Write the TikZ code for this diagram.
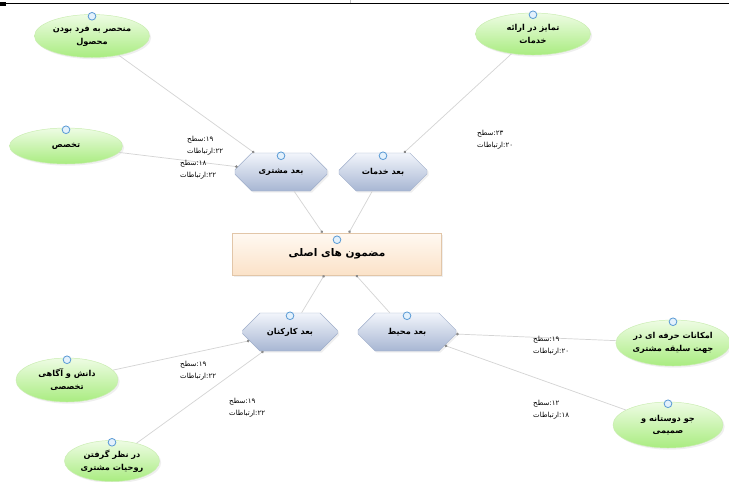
\documentclass[tikz,border=0pt]{standalone}
\usepackage{fontspec}
\usepackage{xcolor}
\usepackage{tikz}
\usetikzlibrary{positioning,shapes.geometric,shapes.misc,arrows.meta,shadows}
\TeXXeTstate=1
\newfontfamily\farsi[Script=Arabic]{DejaVu Sans}
\newcommand{\fatxt}[1]{\beginR #1\endR}
\newcommand{\weightlbl}[4]{\mbox{\fatxt{#1}}\mbox{:}\mbox{#2}\\\mbox{\fatxt{#3}}\mbox{:}\mbox{#4}}
\definecolor{THGreenTop}{HTML}{EEFCE4}
\definecolor{THGreenBot}{HTML}{A9EC80}
\definecolor{THGreenLine}{HTML}{C9EDB0}
\definecolor{THBlueTop}{HTML}{F2F5FB}
\definecolor{THBlueBot}{HTML}{A7B6D3}
\definecolor{THBlueLine}{HTML}{9FAECA}
\definecolor{THPeachTop}{HTML}{FFF9F2}
\definecolor{THPeachBot}{HTML}{FBE2C8}
\definecolor{THPeachLine}{HTML}{E2C6A8}
\definecolor{THLink}{HTML}{D4D4D4}
\definecolor{THDot}{HTML}{8A8A8A}
\definecolor{THKnob}{HTML}{5B9BD5}
\definecolor{THKnobFill}{HTML}{E3F1FC}
\begin{document}
\begin{tikzpicture}[x=0.3mm,y=-0.3mm,
    theme/.style={ellipse,draw=THGreenLine,top color=THGreenTop,bottom color=THGreenBot,
      font=\farsi\bfseries\fontsize{7}{11}\selectfont,align=center,inner sep=0pt,
      drop shadow={opacity=0.12,shadow xshift=0.5mm,shadow yshift=-0.5mm}},
    dimbox/.style={chamfered rectangle,chamfered rectangle xsep=4.5mm,chamfered rectangle ysep=4mm,
      draw=THBlueLine,top color=THBlueTop,bottom color=THBlueBot,
      font=\farsi\bfseries\fontsize{7}{11}\selectfont,inner sep=0pt,minimum height=11.4mm,
      drop shadow={opacity=0.12,shadow xshift=0.5mm,shadow yshift=-0.5mm}},
    mainbox/.style={rectangle,draw=THPeachLine,top color=THPeachTop,bottom color=THPeachBot,
      font=\farsi\bfseries\fontsize{9}{11}\selectfont,minimum width=62.7mm,minimum height=12.6mm,
      drop shadow={opacity=0.12,shadow xshift=0.5mm,shadow yshift=-0.5mm}},
    link/.style={draw=THLink,line width=0.6pt,-{Circle[length=2.2pt,color=THDot]}},
    weight/.style={font=\farsi\fontsize{6}{10}\selectfont,align=left,inner sep=0pt,anchor=west},
    knob/.style={circle,draw=THKnob,fill=THKnobFill,line width=0.7pt,minimum size=2.3mm,inner sep=0pt}]
  \fill[white] (0,0) rectangle (729,481);
  \useasboundingbox (0,0) rectangle (729,481);
  % page rule
  \draw[line width=0.7pt] (0,3) -- (729,3);
  \fill (0,2) rectangle (6,6);
  \draw[gray!50,line width=0.4pt] (350,0) -- (350,3);

  % main theme and dimensions
  \node[mainbox] (main) at (337,254) {\fatxt{مضمون های اصلی}};
  \node[dimbox,minimum width=27.6mm] (cust) at (281,172) {\fatxt{بعد مشتری}};
  \node[dimbox,minimum width=26.4mm] (serv) at (383,172) {\fatxt{بعد خدمات}};
  \node[dimbox,minimum width=28.5mm] (staff) at (290,332) {\fatxt{بعد کارکنان}};
  \node[dimbox,minimum width=29.4mm] (env) at (407,332) {\fatxt{بعد محیط}};

  % sub themes
  \foreach \n/\x/\y/\w/\h/\t in {
      uniq/92/36/34.5/12.9/{\fatxt{منحصر به فرد بودن}\\\fatxt{محصول}},
      offer/533/34/34.5/12.6/{\fatxt{تمایز در ارائه}\\\fatxt{خدمات}},
      skill/66/146/33.9/10.8/{\fatxt{تخصص}},
      know/67/380/30.6/13.2/{\fatxt{دانش و آگاهی}\\\fatxt{تخصصی}},
      mood/112/461/28.5/12.3/{\fatxt{در نظر گرفتن}\\\fatxt{روحیات مشتری}},
      tools/673/343/31.5/13.8/{\fatxt{امکانات حرفه ای در}\\\fatxt{جهت سلیقه مشتری}},
      warm/668/425/33.0/13.8/{\fatxt{جو دوستانه و}\\\fatxt{صمیمی}}} {
    \node[theme,minimum width=\w mm,minimum height=\h mm] (\n) at (\x,\y) {\t};
  }

  % icons
  \foreach \n/\d in {main/2.1,cust/0.9,serv/0.9,staff/0.9,env/0.9,uniq/0.6,offer/0.6,skill/0.6,know/0.6,mood/0.6,tools/0.6,warm/0.6}
    \node[knob] (\n-k) at ([yshift=-\d mm]\n.north) {};

  % links
  \foreach \a/\b in {uniq/cust,skill/cust,offer/serv,cust/main,serv/main,staff/main,env/main,know/staff,mood/staff,tools/env,warm/env}
    \draw[link] (\a) -- (\b);

  % weights
  \node[weight] (w1) at (187,146) {\weightlbl{سطح}{۱۹}{ارتباطات}{۲۲}};
  \node[weight] (w2) at (180,170) {\weightlbl{سطح}{۱۸}{ارتباطات}{۲۲}};
  \node[weight] (w3) at (477,140) {\weightlbl{سطح}{۲۳}{ارتباطات}{۲۰}};
  \node[weight] (w4) at (533,346) {\weightlbl{سطح}{۱۹}{ارتباطات}{۲۰}};
  \node[weight] (w5) at (533,410) {\weightlbl{سطح}{۱۲}{ارتباطات}{۱۸}};
  \node[weight] (w6) at (180,371) {\weightlbl{سطح}{۱۹}{ارتباطات}{۲۲}};
  \node[weight] (w7) at (229,408) {\weightlbl{سطح}{۱۹}{ارتباطات}{۲۲}};
\end{tikzpicture}
\end{document}
